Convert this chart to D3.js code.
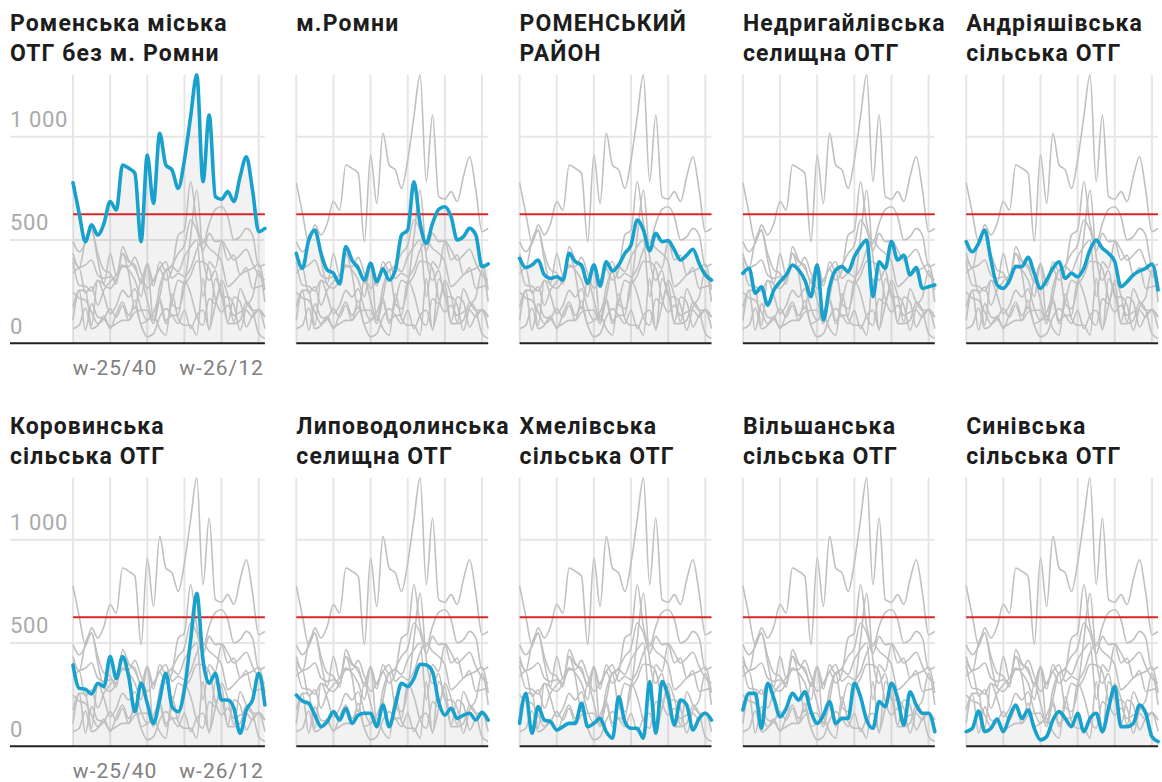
<!DOCTYPE html>
<html><head><meta charset="utf-8">
<script src="https://cdn.jsdelivr.net/npm/d3@7"></script>
<style>
body{margin:0;background:#fff}
svg{display:block}
text{font-family:Roboto,"Noto Sans",sans-serif}
</style>
</head><body>
<svg id="c" width="1162" height="782"></svg>
<script>
// ---- data ----
const names = [
  "Роменська міська\nОТГ без м. Ромни",
  "м.Ромни",
  "РОМЕНСЬКИЙ\nРАЙОН",
  "Недригайлівська\nселищна ОТГ",
  "Андріяшівська\nсільська ОТГ",
  "Коровинська\nсільська ОТГ",
  "Липоводолинська\nселищна ОТГ",
  "Хмелівська\nсільська ОТГ",
  "Вільшанська\nсільська ОТГ",
  "Синівська\nсільська ОТГ"
];
const romenskaMiska = [777,629,492,573,524,580,686,645,863,847,823,492,911,677,1016,863,839,750,887,1097,1299,782,1105,710,697,734,686,807,903,742,540,556];
const romny        = [435,363,500,548,435,355,339,287,468,403,363,306,387,298,360,306,355,524,548,782,580,484,580,648,661,613,500,516,556,524,371,384];
const raion        = [411,367,379,403,331,314,322,306,435,395,379,290,379,277,395,350,379,435,476,597,548,448,532,492,497,452,403,427,455,387,331,306];
const nedryhailiv  = [339,363,242,274,185,258,298,331,379,355,306,226,379,113,274,355,371,347,419,468,500,226,395,363,492,403,427,331,367,266,274,282];
const andriyashivka= [492,443,484,548,403,282,266,306,371,371,416,339,266,306,363,395,314,339,322,363,452,500,460,435,395,274,298,331,350,363,384,258];
const korovyntsi   = [393,281,276,253,305,289,434,329,434,337,168,305,208,111,224,353,192,168,273,515,740,418,305,353,224,224,184,63,176,224,353,200];
const lypovaDolyna = [248,219,208,151,95,119,168,127,184,111,151,160,160,95,200,95,200,305,289,329,397,393,361,216,151,184,135,151,160,127,164,127];
const khmelivka    = [111,256,63,192,127,119,79,95,111,111,208,95,111,135,71,39,240,119,87,87,39,313,63,313,240,103,224,200,79,135,160,127];
const vilshana     = [176,256,256,87,305,232,143,184,256,224,264,168,111,151,216,111,135,135,305,240,127,87,216,192,305,232,103,264,200,160,160,71];
const synivka      = [71,87,171,71,87,132,71,143,200,135,176,87,31,47,127,168,135,95,160,71,135,160,71,184,289,95,95,111,200,160,47,23];
const series = [romenskaMiska, romny, raion, nedryhailiv, andriyashivka,
                korovyntsi, lypovaDolyna, khmelivka, vilshana, synivka];
const threshold = 625;
const yTicks = [0, 500, 1000];
const yTickLabels = ["0", "500", "1 000"];
const xGrid = [0, 6, 12, 18, 24, 30];
const xLabelPos = [6.8, 24];
const xTickLabels = ["w-25/40", "w-26/12"];

// ---- drawing ----
const svg = d3.select("#c");
const nPts = romenskaMiska.length;
const colLeft0 = 73, colStep = 223.3, plotW = 191.9;
const row0Base = 343.3, rowStep = 403, plotH = 268.6;

series.forEach((vals, k) => {
  const col = k % 5, row = Math.floor(k / 5);
  const left = colLeft0 + col * colStep;
  const base = row0Base + row * rowStep;
  const x = d3.scaleLinear().domain([0, nPts - 1]).range([left, left + plotW]);
  const y = d3.scaleLinear().domain([0, 1300]).range([base, base - plotH]);
  const gLeft = col === 0 ? 10 : left;
  const g = svg.append("g");

  g.selectAll(".hg").data(yTicks.filter(t => t > 0)).join("line")
    .attr("x1", gLeft).attr("x2", x(nPts - 1))
    .attr("y1", d => y(d)).attr("y2", d => y(d))
    .attr("stroke", "#e6e6e6").attr("stroke-width", 2);
  g.selectAll(".vg").data(xGrid).join("line")
    .attr("x1", d => x(d)).attr("x2", d => x(d))
    .attr("y1", y(1300)).attr("y2", y(0))
    .attr("stroke", "#e6e6e6").attr("stroke-width", 2);

  const area = d3.area().x((d, i) => x(i)).y0(y(0)).y1(d => y(d)).curve(d3.curveMonotoneX);
  g.append("path").attr("d", area(vals)).attr("fill", "#000").attr("fill-opacity", 0.05);

  const line = d3.line().x((d, i) => x(i)).y(d => y(d)).curve(d3.curveMonotoneX);
  series.forEach((s, j) => {
    if (j === k) return;
    g.append("path").attr("d", line(s)).attr("fill", "none")
      .attr("stroke", "#c0c0c0").attr("stroke-width", 1.6);
  });
  g.append("line").attr("x1", x(0)).attr("x2", x(nPts - 1))
    .attr("y1", y(threshold)).attr("y2", y(threshold))
    .attr("stroke", "#d9262a").attr("stroke-width", 2);
  g.append("path").attr("d", line(vals)).attr("fill", "none")
    .attr("stroke", "#18a1cd").attr("stroke-width", 3.6)
    .attr("stroke-linejoin", "round").attr("stroke-linecap", "round");
  g.append("line").attr("x1", gLeft).attr("x2", x(nPts - 1))
    .attr("y1", y(0)).attr("y2", y(0))
    .attr("stroke", "#222").attr("stroke-width", 2);

  if (col === 0) {
    g.selectAll(".yl").data(yTicks).join("text")
      .attr("x", 10).attr("y", d => y(d) - 9.5)
      .attr("font-size", 22).attr("letter-spacing", "0.6px").attr("fill", "#aaaaaa")
      .text((d, i) => yTickLabels[i]);
    g.selectAll(".xl").data(xLabelPos).join("text")
      .attr("x", d => x(d)).attr("y", y(0) + 32)
      .attr("text-anchor", "middle")
      .attr("font-size", 21).attr("letter-spacing", "1px").attr("fill", "#808080")
      .text((d, i) => xTickLabels[i]);
  }

  const t = g.append("text").attr("x", gLeft).attr("y", 31 + row * rowStep)
    .attr("font-size", 23).attr("font-weight", 700).attr("letter-spacing", "1.1px")
    .attr("fill", "#1d1d1d");
  names[k].split("\n").forEach((ln, i) => {
    t.append("tspan").attr("x", gLeft).attr("dy", i === 0 ? 0 : 29.5).text(ln);
  });
});
</script>
</body></html>
